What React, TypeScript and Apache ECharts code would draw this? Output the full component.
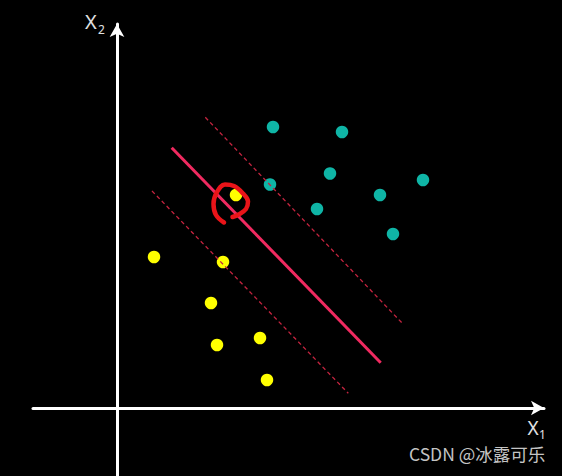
import React, { useEffect, useRef } from "react";
import * as echarts from "echarts";

// data coordinates: origin at the axes' crossing, y up
const classA: number[][] = [
  [156, 281], [225, 276], [213, 234.5], [153, 223.5],
  [263, 213], [306, 228], [200, 199], [276, 174],
];
const classB: number[][] = [
  [119, 213], [37, 151], [106, 146], [94, 105],
  [100, 63], [143, 70], [150, 28],
];
const hyperplane: number[][] = [[54.7, 260.3], [263.7, 45.3]];
const marginUpper: number[][] = [[88.3, 290.7], [286.3, 83.7]];
const marginLower: number[][] = [[35, 217], [231.3, 14.7]];
const highlightLoop: number[][] = [
  [107, 185.5], [99, 193], [96.5, 204], [100, 216], [108, 223.5],
  [117, 222], [126, 214.5], [131, 206.5], [129, 199], [121.5, 193.5], [115.5, 191],
];
const xLabel = ["X", "1"];
const yLabel = ["X", "2"];
const watermark = "CSDN @冰露可乐";

export default function App() {
  const ref = useRef<HTMLDivElement>(null);
  useEffect(() => {
    if (!ref.current) return;
    const chart = echarts.init(ref.current, null, { renderer: "svg" });
    const axisCommon = {
      type: "value" as const,
      splitLine: { show: false },
      axisTick: { show: false },
      axisLabel: { show: false },
      axisLine: {
        show: true,
        onZero: true,
        symbol: ["none", "arrow"],
        symbolSize: [11, 13],
        lineStyle: { color: "#ffffff", width: 3 },
      },
    };
    chart.setOption({
      animation: false,
      backgroundColor: "#000000",
      grid: { left: 33, right: 18, top: 24, bottom: 0 },
      xAxis: { ...axisCommon, min: -84, max: 427 },
      yAxis: { ...axisCommon, min: -68, max: 384 },
      graphic: [
        { type: "text", x: 85, y: 11, style: { text: yLabel[0], fill: "#e0e0e0", font: "20px 'Noto Sans', sans-serif" } },
        { type: "text", x: 98, y: 23.5, style: { text: yLabel[1], fill: "#e0e0e0", font: "12px 'Noto Sans', sans-serif" } },
        { type: "text", x: 527.5, y: 418, style: { text: xLabel[0], fill: "#e0e0e0", font: "19px 'Noto Sans', sans-serif" } },
        { type: "text", x: 539, y: 428, style: { text: xLabel[1], fill: "#e0e0e0", font: "12px 'Noto Sans', sans-serif" } },
        { type: "text", x: 409, y: 445, style: { text: watermark, fill: "#c4c4c4", font: "17.5px 'Noto Sans CJK SC', 'Noto Sans', sans-serif" } },
      ],
      series: [
        {
          type: "line", data: hyperplane, symbol: "none", z: 2,
          lineStyle: { color: "#f02a60", width: 3 },
        },
        {
          type: "scatter", data: classA, symbolSize: 12.5, z: 3,
          itemStyle: { color: "#0fb5a6", opacity: 1 },
        },
        {
          type: "scatter", data: classB, symbolSize: 12.5, z: 3,
          itemStyle: { color: "#ffff00", opacity: 1 },
        },
        {
          type: "line", data: marginUpper, symbol: "none", z: 4,
          lineStyle: { color: "#c4243f", width: 1.3, type: [4, 3] },
        },
        {
          type: "line", data: marginLower, symbol: "none", z: 4,
          lineStyle: { color: "#c4243f", width: 1.3, type: [4, 3] },
        },
        {
          type: "line", data: highlightLoop, symbol: "none", smooth: 0.4, z: 5,
          lineStyle: { color: "#ea1419", width: 4.5, cap: "round" },
        },
      ],
    });
    return () => chart.dispose();
  }, []);
  return (
    <div
      ref={ref}
      style={{ position: "fixed", left: 0, top: 0, width: 562, height: 476 }}
    />
  );
}
